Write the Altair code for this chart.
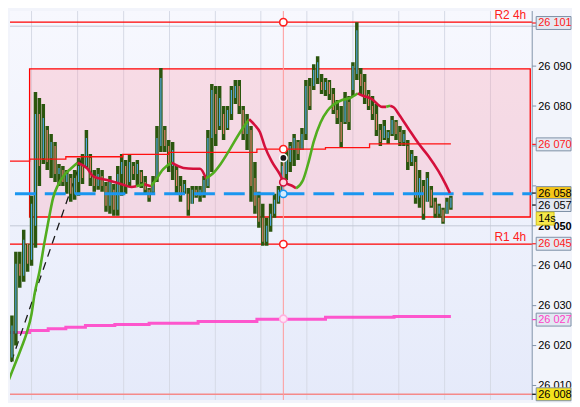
import altair as alt
import pandas as pd

# ---------------- data ----------------
high = [26018, 26018, 26027.5, 26043.5, 26043.5, 26049, 26045.5, 26057.5, 26083.5, 26082,
        26080.5, 26075, 26073, 26071, 26065.5, 26065, 26064, 26063, 26064, 26067,
        26068, 26074, 26068, 26064, 26064.5, 26064, 26061, 26062.5, 26060.5, 26065,
        26068, 26066.5, 26068, 26066, 26066.5, 26064, 26062.5, 26059.5, 26062.5, 26075,
        26089.5, 26075, 26071.5, 26071, 26065, 26062.5, 26061.5, 26059.5, 26060, 26060,
        26060, 26062.5, 26074, 26085.5, 26085, 26085, 26080, 26080, 26085, 26086.5,
        26086.5, 26080, 26078, 26075, 26066, 26058.5, 26055.5, 26052, 26055.5, 26058,
        26060, 26066, 26069, 26071, 26073, 26071.5, 26074.5, 26086.5, 26087, 26090.5,
        26092.5, 26088, 26087, 26086.5, 26084.5, 26081.5, 26080, 26083.5, 26082.5, 26091,
        26101, 26089.5, 26088, 26084, 26082.5, 26080.5, 26075.5, 26076.5, 26074, 26077.5,
        26076.5, 26075, 26074, 26071.5, 26069, 26067.5, 26064, 26061.5, 26063.5, 26060,
        26057, 26055.5, 26054.5, 26057, 26057.5]
low = [26008.5, 26012, 26016, 26020, 26034.5, 26036, 26038.5, 26040, 26044.5, 26060,
       26065.5, 26064, 26062, 26061, 26060, 26060, 26058, 26056, 26056.5, 26057.5,
       26060.5, 26064.5, 26060, 26058.5, 26059, 26058.5, 26053.5, 26053, 26052.5, 26052.5,
       26057.5, 26058, 26060, 26061.5, 26060, 26059.5, 26058, 26056, 26058, 26061,
       26068.5, 26068.5, 26063.5, 26061.5, 26058, 26056, 26058, 26052.5, 26055.5, 26057,
       26056, 26057, 26059.5, 26063.5, 26070, 26074, 26071.5, 26074, 26076.5, 26080.5,
       26078, 26071.5, 26069, 26056, 26053, 26049.5, 26045, 26045, 26048.5, 26052,
       26055.5, 26058, 26061.5, 26063.5, 26065, 26066.5, 26069, 26071.5, 26079, 26084,
       26085.5, 26083, 26082.5, 26081.5, 26078, 26075.5, 26069.5, 26075.5, 26074, 26082.5,
       26086.5, 26083, 26080.5, 26079, 26076.5, 26072.5, 26070, 26071.5, 26070.5, 26072.5,
       26071.5, 26070, 26070, 26064, 26065, 26055.5, 26054.5, 26051.5, 26056, 26054.5,
       26052, 26052, 26050.5, 26053, 26054]
open_ = [26010, 26016, 26017, 26023, 26040.5, 26037.5, 26045.5, 26041.5, 26050, 26078,
         26067, 26074, 26067, 26070, 26063, 26064, 26061, 26062, 26058, 26061,
         26065, 26065, 26067, 26062, 26060, 26062.5, 26060, 26055, 26059, 26054,
         26063, 26065, 26061, 26065, 26063, 26063.5, 26061, 26059, 26058.5, 26062,
         26070, 26074, 26070, 26065, 26064, 26060, 26058.5, 26058, 26055.5, 26059,
         26057.5, 26058, 26060, 26072, 26083, 26075, 26078, 26074.5, 26078, 26082,
         26085, 26079, 26073, 26074, 26062, 26057, 26052, 26046, 26050, 26053,
         26056, 26058.5, 26063, 26066, 26069, 26071, 26069, 26073, 26085, 26085,
         26087, 26086, 26084, 26086, 26083, 26079, 26076, 26076, 26081, 26084,
         26088, 26088, 26086, 26083, 26080, 26078, 26074, 26072, 26072, 26073,
         26076, 26073.5, 26071, 26070, 26066, 26066, 26057, 26060, 26056, 26059,
         26056, 26053, 26054, 26053, 26054.5]
close = [26016, 26014, 26025, 26040.5, 26037.5, 26046.5, 26040.5, 26055.5, 26078, 26065,
         26077, 26066, 26071, 26063, 26064.5, 26061, 26063, 26058, 26062, 26065,
         26062, 26072, 26062, 26060, 26063, 26060, 26055, 26061, 26054, 26063,
         26066, 26060, 26066, 26063, 26065.5, 26061, 26059, 26057, 26061, 26072,
         26087, 26070, 26065, 26069, 26060, 26057.5, 26060.5, 26054, 26059, 26057.5,
         26059, 26061.5, 26072, 26084, 26073, 26082, 26073, 26079, 26084, 26085,
         26080, 26073, 26076, 26060, 26055, 26051, 26046, 26050, 26053, 26056.5,
         26059, 26065, 26067, 26070, 26072, 26068, 26073, 26085, 26080, 26089,
         26091, 26084, 26086, 26083, 26079, 26077, 26071, 26082, 26076, 26090,
         26099, 26085, 26082, 26080, 26078, 26074, 26071, 26075, 26073.5, 26076.5,
         26073, 26071, 26073, 26066, 26068, 26057, 26062, 26053, 26062, 26055,
         26053, 26055, 26051, 26056, 26057]

# moving average (bar index, price) and the points where its colour flips
ma_i = [-0.1, 2, 3.25, 4.5, 5.75, 7, 7.75, 9, 10.25, 11.5, 12.5, 13.75, 15.25, 17, 18.75,
        21.25, 22.75, 26.5, 30, 32.5, 33.75, 35.75, 37.5, 39, 40.25, 41.5, 42.75,
        45.75, 48.25, 50, 51.5, 53.25, 55.25, 57.75, 60.25, 62.5, 64, 65.25, 66.5,
        68.25, 70.25, 71.5, 73.75, 74.5, 76.25, 77.75, 79, 80.75, 82.5, 84, 86.25,
        88.25, 90.25, 91.25, 93.75, 96.5, 97.5, 98.5, 99.5, 100.75, 103.25, 105.75,
        108.25, 110.75, 112.5, 113.75]
ma_p = [26008.1, 26013.4, 26016.5, 26019.7, 26023.1, 26027.9, 26032.8, 26038.4, 26045.6,
        26052.2, 26057.0, 26060.2, 26062.6, 26064.3, 26065.8, 26064.3, 26062.4, 26061.4,
        26060.4, 26059.7, 26059.9, 26060.4, 26059.9, 26061.9, 26063.8, 26065.0, 26065.8,
        26064.5, 26064.3, 26064.3, 26061.9, 26063.1, 26065.5, 26069.4, 26073.5, 26076.7,
        26075.2, 26073.5, 26069.9, 26066.2, 26063.1, 26060.9, 26059.9, 26059.4, 26061.4,
        26066.2, 26071.1, 26075.9, 26078.8, 26080.3, 26081.5, 26082.0, 26083.2, 26082.7,
        26081.8, 26079.8, 26079.8, 26080.1, 26079.6, 26077.9, 26074.2, 26070.6, 26067.5,
        26063.8, 26060.7, 26058.2]
ma_breaks = [14, 20, 21, 22, 26, 30, 35, 43, 52, 56, 57]

# stepped lines
step_i = [-0.5, 6.5, 15.75, 30.25, 42, 64.5, 82, 93.25, 114]
step_p = [26066.2, 26066.7, 26067.3, 26067.9, 26068.4, 26069.2, 26069.6, 26070.5, 26070.5]
mag_i = [-0.5, 6.5, 11.25, 15.75, 20.75, 28.25, 37, 49.5, 64.5, 82, 99.5, 114]
mag_p = [26023.3, 26023.8, 26024.2, 26024.6, 26025.0, 26025.3, 26025.6, 26026.0,
         26026.6, 26027.1, 26027.3, 26027.3]

trend_i = [-0.5, 20]
trend_p = [26009.3, 26067.5]

r2, r1, low_line, last_price = 26101, 26045.4, 26007.8, 26058.0
box_i = [6.5, 134.25]
box_p = [26052.2, 26089.3]
vgrid_i = [7, 18.75, 30.5, 42.2, 53.9, 65.5, 77.25, 89, 100.7, 112.4, 124.1]
hgrid_p = [26050, 26100]
tick_vals = [26010, 26020, 26030, 26040, 26050, 26060, 26070, 26080, 26090, 26100]
# labels that show (the others sit behind price tags)
label_vals = [26010, 26020, 26030, 26040, 26080, 26090]
label_text = ["26 010", "26 020", "26 030", "26 040", "26 080", "26 090"]
bold_vals = [26050]
bold_text = ["26 050"]

cross_i = 71.25
cross_p = [26101, 26069.2, 26067.0, 26060.9, 26058.0, 26045.4, 26026.7]
cross_stroke = ["#ff2020", "#ff2020", "#ffffff", "#d4103c", "#1a96f0", "#ff2020", "#ffb0e0"]
cross_fill = ["#ffffff", "#ffffff", "#1a1a1a", "#ffd6de", "#d6ecff", "#ffffff", "#ffe6f6"]

tag_text = ["26 101", "26 070", "26 058", "26 057", "26 045", "26 027", "26 008"]
tag_p = [26100.8, 26070.4, 26058.2, 26055.2, 26045.5, 26026.5, 26007.8]
tag_color = ["#ff1a1a", "#ff1a1a", "#000000", "#000000", "#ff1a1a", "#ff40c8", "#000000"]
tag_bg = ["#e3e8f2", "#e3e8f2", "#f5c518", "#e3e8f2", "#e3e8f2", "#e3e8f2", "#f4e21c"]
timer_text = "14s"
timer_p = 26051.8

r_text = ["R2 4h", "R1 4h"]
r_p = [r2, r1]

# ---------------- layout ----------------
W, H = 525, 391
AXC = "#8193a8"
xs = alt.Scale(domain=[1.5, 134.75], nice=False, zero=False)
ys = alt.Scale(domain=[26006.37, 26103.8], nice=False, zero=False)


def X(f):
    return alt.X(f, type="quantitative", scale=xs, axis=None)


def Y(f):
    return alt.Y(f, type="quantitative", scale=ys, axis=None)


GREEN, CRIMSON = "#52ad1f", "#d4103c"

candles = pd.DataFrame({"i": list(range(len(high))), "o": open_, "h": high, "l": low, "c": close})
candles["col"] = ["#4ea6e0" if c >= o else "#e3806c" for o, c in zip(open_, close)]

rows = []
bounds = [0] + ma_breaks + [len(ma_i) - 1]
for s in range(len(bounds) - 1):
    col = GREEN if s % 2 == 0 else CRIMSON
    for k in range(bounds[s], bounds[s + 1] + 1):
        rows.append({"i": ma_i[k], "p": ma_p[k], "seg": s, "k": k, "col": col})
ma = pd.DataFrame(rows)

one = pd.DataFrame({"a": [0]})

bg = alt.Chart(one).mark_rect(
    fill=alt.Gradient(gradient="linear", x1=0, x2=0, y1=0, y2=1,
                      stops=[alt.GradientStop(color="#f7f8fe", offset=0),
                             alt.GradientStop(color="#e5eafa", offset=1)])
).encode(x=alt.value(0), x2=alt.value(W), y=alt.value(0), y2=alt.value(H))

vgrid = alt.Chart(pd.DataFrame({"i": vgrid_i})).mark_rule(color="#d6dae6", strokeWidth=1).encode(x=X("i"))
hgrid = alt.Chart(pd.DataFrame({"p": hgrid_p})).mark_rule(color="#c3c8d6", strokeWidth=1).encode(y=Y("p"))

# hand-drawn right axis
ax_domain = alt.Chart(one).mark_rule(color=AXC, strokeWidth=1).encode(x=alt.value(W))
ax_ticks = alt.Chart(pd.DataFrame({"p": tick_vals})).mark_rule(color=AXC, strokeWidth=1).encode(
    x=alt.value(W), x2=alt.value(W + 4), y=Y("p"))
ax_labels = alt.Chart(pd.DataFrame({"p": label_vals, "t": label_text})).mark_text(
    align="left", baseline="middle", fontSize=11, font="Liberation Sans", color="#000000", dy=0.5
).encode(x=alt.value(W + 6), y=Y("p"), text="t:N")
ax_bold = alt.Chart(pd.DataFrame({"p": bold_vals, "t": bold_text})).mark_text(
    align="left", baseline="middle", fontSize=11, font="Liberation Sans", fontWeight="bold",
    color="#000000", dy=1.5
).encode(x=alt.value(W + 6), y=Y("p"), text="t:N")

box = alt.Chart(pd.DataFrame({"x1": [box_i[0]], "x2": [box_i[1]], "y1": [box_p[0]], "y2": [box_p[1]]})).mark_rect(
    fill="#ff97a8", fillOpacity=0.28, stroke="#ff0000", strokeWidth=1.3
).encode(x=X("x1"), x2="x2", y=Y("y1"), y2="y2")

mag = alt.Chart(pd.DataFrame({"i": mag_i, "p": mag_p})).mark_line(
    color="#ff45c8", strokeWidth=3, interpolate="step-after", clip=True, opacity=0.9
).encode(x=X("i"), y=Y("p"))

rlines = alt.Chart(pd.DataFrame({"p": [r2, r1]})).mark_rule(strokeWidth=1.3, color="#ff0000").encode(y=Y("p"))
lowl = alt.Chart(pd.DataFrame({"p": [low_line]})).mark_rule(strokeWidth=1.3, color="#f58a8a").encode(y=Y("p"))

trend = alt.Chart(pd.DataFrame({"i": trend_i, "p": trend_p})).mark_line(
    color="#1a1a1a", strokeWidth=1.3, strokeDash=[8, 6], clip=True
).encode(x=X("i"), y=Y("p"))

wicks = alt.Chart(candles).mark_rule(color="#2b560e", strokeWidth=3.5, clip=True).encode(
    x=X("i"), y=Y("l"), y2="h")
bodies = alt.Chart(candles).mark_rule(strokeWidth=1.2, clip=True).encode(
    x=X("i"), y=Y("o"), y2="c", color=alt.Color("col:N", scale=None))

step = alt.Chart(pd.DataFrame({"i": step_i, "p": step_p})).mark_line(
    color="#ff1010", strokeWidth=1.3, interpolate="step-after", clip=True
).encode(x=X("i"), y=Y("p"))

blue = alt.Chart(pd.DataFrame({"p": [last_price]})).mark_rule(
    color="#1a96f0", strokeWidth=3, strokeDash=[21, 9], strokeDashOffset=11
).encode(y=Y("p"))

ma_line = alt.Chart(ma).mark_line(strokeWidth=2.6, interpolate="monotone", clip=True).encode(
    x=X("i"), y=Y("p"), detail="seg:N", order="k:Q", color=alt.Color("col:N", scale=None))

cross = alt.Chart(pd.DataFrame({"i": [cross_i]})).mark_rule(color="#ff9a9a", strokeWidth=1).encode(x=X("i"))
cross_pts = alt.Chart(pd.DataFrame({"i": [cross_i] * len(cross_p), "p": cross_p,
                                    "s": cross_stroke, "f": cross_fill})).mark_point(
    shape="circle", filled=True, size=55, strokeWidth=1.6, opacity=1
).encode(x=X("i"), y=Y("p"), fill=alt.Fill("f:N", scale=None), stroke=alt.Stroke("s:N", scale=None))

rtext = alt.Chart(pd.DataFrame({"t": r_text, "p": r_p})).mark_text(
    align="right", baseline="alphabetic", dy=-3, fontSize=12, font="Liberation Sans", color="#ff2020"
).encode(x=alt.value(W - 6), y=Y("p"), text="t:N")

tags = pd.DataFrame({"t": tag_text, "p": tag_p, "tc": tag_color, "bg": tag_bg})
tags["lo"] = tags["p"] - 1.62
tags["hi"] = tags["p"] + 1.62
connect = alt.Chart(tags).mark_rule(strokeWidth=1.2).encode(
    x=alt.value(W), x2=alt.value(W + 4), y=Y("p"), color=alt.Color("tc:N", scale=None))
tag_box = alt.Chart(tags).mark_rect(stroke="#7e90a6", strokeWidth=1).encode(
    x=alt.value(W + 4), x2=alt.value(W + 39), y=Y("lo"), y2="hi", fill=alt.Fill("bg:N", scale=None))
tag_txt = alt.Chart(tags).mark_text(
    align="left", baseline="middle", fontSize=11, font="Liberation Sans", dy=0.5
).encode(x=alt.value(W + 6), y=Y("p"), text="t:N", color=alt.Color("tc:N", scale=None))

timer = pd.DataFrame({"t": [timer_text], "p": [timer_p], "lo": [timer_p - 1.62], "hi": [timer_p + 1.62]})
timer_box = alt.Chart(timer).mark_rect(fill="#f6e84c", stroke="#c9b800", strokeWidth=0.8).encode(
    x=alt.value(W + 4), x2=alt.value(W + 22), y=Y("lo"), y2="hi")
timer_txt = alt.Chart(timer).mark_text(
    align="left", baseline="middle", fontSize=11, font="Liberation Sans", color="#000000", dy=0.5
).encode(x=alt.value(W + 6), y=Y("p"), text="t:N")

chart = alt.layer(
    bg, vgrid, hgrid, box, mag, rlines, lowl, trend, wicks, bodies, step, blue, ma_line,
    cross, cross_pts, rtext, ax_domain, ax_ticks, ax_labels, ax_bold,
    connect, tag_box, tag_txt, timer_box, timer_txt
).properties(
    width=W, height=H, padding=0, background="#f2f4fb"
).configure_view(stroke=None)

chart.save("out.html", embed_options={"renderer": "svg", "actions": False})
